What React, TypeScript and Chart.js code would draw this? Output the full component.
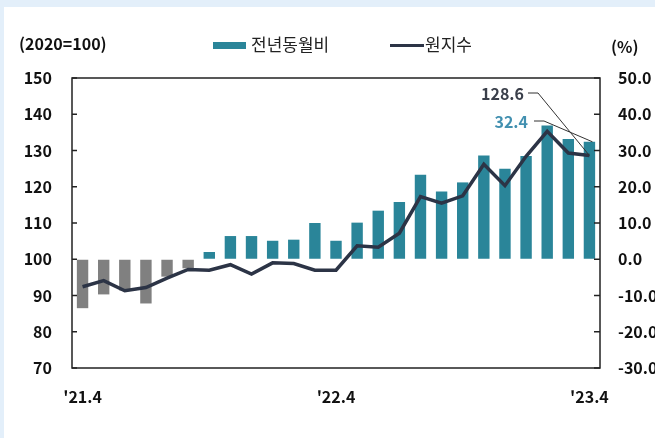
import React, { useEffect, useRef } from "react";
import { Chart, registerables } from "chart.js";

Chart.register(...registerables);

const MONTHS: string[] = [
  "'21.4", "'21.5", "'21.6", "'21.7", "'21.8", "'21.9", "'21.10", "'21.11", "'21.12",
  "'22.1", "'22.2", "'22.3", "'22.4", "'22.5", "'22.6", "'22.7", "'22.8", "'22.9",
  "'22.10", "'22.11", "'22.12", "'23.1", "'23.2", "'23.3", "'23.4",
];
const SHOWN_TICKS: string[] = ["'21.4", "'22.4", "'23.4"];

// 전년동월비 (%), right axis
const YOY: number[] = [
  -13.5, -9.7, -8.6, -12.2, -4.8, -2.5, 2.0, 6.4, 6.4, 5.1, 5.4, 10.0, 5.1,
  10.1, 13.4, 15.8, 23.3, 18.7, 21.2, 28.6, 25.0, 28.5, 36.9, 33.2, 32.4,
];
// 원지수 (2020=100), left axis
const INDEX: number[] = [
  92.4, 94.1, 91.3, 92.2, 94.8, 97.2, 97.0, 98.5, 95.9, 99.0, 98.8, 97.0, 97.0,
  103.7, 103.3, 107.2, 117.3, 115.5, 117.5, 126.2, 120.3, 128.4, 135.3, 129.3, 128.6,
];

const LEFT_MIN = 70, LEFT_MAX = 150, LEFT_STEP = 10;
const RIGHT_MIN = -30, RIGHT_MAX = 50, RIGHT_STEP = 10;

const TEAL = "#2a8599";
const GRAY = "#808080";
const NAVY = "#2c3446";
const FONT = "'Noto Sans CJK KR', 'Noto Sans', sans-serif";

export default function App() {
  const ref = useRef<HTMLCanvasElement | null>(null);

  useEffect(() => {
    if (!ref.current) return;
    const decor = {
      id: "decor",
      beforeDraw(chart: any) {
        const ctx = chart.ctx;
        ctx.save();
        ctx.fillStyle = "#ffffff";
        ctx.fillRect(0, 0, chart.width, chart.height);
        ctx.fillStyle = "#e3effa";
        ctx.fillRect(0, 0, chart.width, 7);
        ctx.fillRect(0, 0, 4, chart.height);
        ctx.restore();
      },
      afterDatasetsDraw(chart: any) {
        const ctx = chart.ctx;
        const a = chart.chartArea;
        const yL = chart.scales.y;
        const yR = chart.scales.y1;
        const x = chart.scales.x;
        ctx.save();
        // frame
        ctx.strokeStyle = "#222";
        ctx.lineWidth = 1.5;
        ctx.strokeRect(a.left, a.top, a.right - a.left, a.bottom - a.top);
        // inward ticks
        ctx.lineWidth = 1.5;
        yL.ticks.forEach((t: any) => {
          const py = yL.getPixelForValue(t.value);
          ctx.beginPath();
          ctx.moveTo(a.left, py);
          ctx.lineTo(a.left + 5, py);
          ctx.stroke();
        });
        yR.ticks.forEach((t: any) => {
          const py = yR.getPixelForValue(t.value);
          ctx.beginPath();
          ctx.moveTo(a.right, py);
          ctx.lineTo(a.right - 6, py);
          ctx.stroke();
        });
        // annotations
        const last = MONTHS.length - 1;
        const px = x.getPixelForValue(last);
        const pyLine = yL.getPixelForValue(INDEX[last]);
        const pyBar = yR.getPixelForValue(YOY[last]);
        ctx.lineWidth = 1;
        ctx.strokeStyle = "#333";
        ctx.beginPath();
        ctx.moveTo(528, 93);
        ctx.lineTo(538, 93);
        ctx.lineTo(px, pyLine);
        ctx.stroke();
        ctx.beginPath();
        ctx.moveTo(534, 121);
        ctx.lineTo(544, 121);
        ctx.lineTo(px + 3, pyBar);
        ctx.stroke();
        ctx.font = `bold 16px ${FONT}`;
        ctx.textBaseline = "middle";
        ctx.textAlign = "right";
        ctx.fillStyle = "#3a3f4a";
        ctx.fillText(INDEX[last].toFixed(1), 524, 94);
        ctx.fillStyle = "#4290b0";
        ctx.fillText(YOY[last].toFixed(1), 528, 122);

        // axis titles
        ctx.fillStyle = "#111";
        ctx.textAlign = "left";
        ctx.font = `bold 16px ${FONT}`;
        ctx.fillText("(2020=100)", 19, 44);
        ctx.fillText("(%)", 611, 47);

        // legend
        ctx.fillStyle = TEAL;
        ctx.fillRect(213, 42, 33, 7);
        ctx.strokeStyle = NAVY;
        ctx.lineWidth = 3;
        ctx.beginPath();
        ctx.moveTo(390, 45.5);
        ctx.lineTo(424, 45.5);
        ctx.stroke();
        ctx.fillStyle = "#222";
        ctx.font = `17px ${FONT}`;
        ctx.fillText("전년동월비", 251, 45);
        ctx.fillText("원지수", 425, 45);
        ctx.restore();
      },
    };

    const chart = new Chart(ref.current, {
      type: "bar",
      data: {
        labels: MONTHS,
        datasets: [
          {
            type: "line",
            label: "원지수",
            data: INDEX,
            yAxisID: "y",
            borderColor: NAVY,
            borderWidth: 3.5,
            pointRadius: 0,
            tension: 0,
            order: 0,
          } as any,
          {
            type: "bar",
            label: "전년동월비",
            data: YOY,
            yAxisID: "y1",
            backgroundColor: YOY.map((v) => (v < 0 ? GRAY : TEAL)),
            categoryPercentage: 1,
            barPercentage: 0.54,
            order: 1,
          },
        ],
      },
      options: {
        responsive: false,
        animation: false,
        devicePixelRatio: 1,
        layout: { padding: { top: 78, left: 0, right: 0, bottom: 0 } },
        plugins: { legend: { display: false }, tooltip: { enabled: false } },
        scales: {
          x: {
            grid: { display: false, drawTicks: false },
            border: { display: false },
            ticks: {
              autoSkip: false,
              maxRotation: 0,
              padding: 19,
              color: "#111",
              font: { family: FONT, size: 16, weight: "bold" },
              callback: (_v: any, i: number) => (SHOWN_TICKS.includes(MONTHS[i]) ? MONTHS[i] : ""),
            },
            afterFit: (s: any) => { s.height = 70; },
          },
          y: {
            position: "left",
            min: LEFT_MIN,
            max: LEFT_MAX,
            grid: { drawOnChartArea: false, drawTicks: false },
            border: { display: false },
            ticks: {
              stepSize: LEFT_STEP,
              padding: 20,
              color: "#111",
              font: { family: FONT, size: 16, weight: "bold" },
            },
            afterFit: (s: any) => { s.width = 72; },
          },
          y1: {
            position: "right",
            min: RIGHT_MIN,
            max: RIGHT_MAX,
            grid: { drawOnChartArea: false, drawTicks: false },
            border: { display: false },
            ticks: {
              stepSize: RIGHT_STEP,
              padding: 18,
              color: "#111",
              font: { family: FONT, size: 16, weight: "bold" },
              callback: (v: any) => Number(v).toFixed(1),
            },
            afterFit: (s: any) => { s.width = 55; },
          },
        },
      },
      plugins: [decor],
    });
    return () => chart.destroy();
  }, []);

  return (
    <div style={{ position: "absolute", left: 0, top: 0, width: 655, height: 438 }}>
      <canvas ref={ref} width={655} height={438} style={{ width: 655, height: 438, display: "block" }} />
    </div>
  );
}
